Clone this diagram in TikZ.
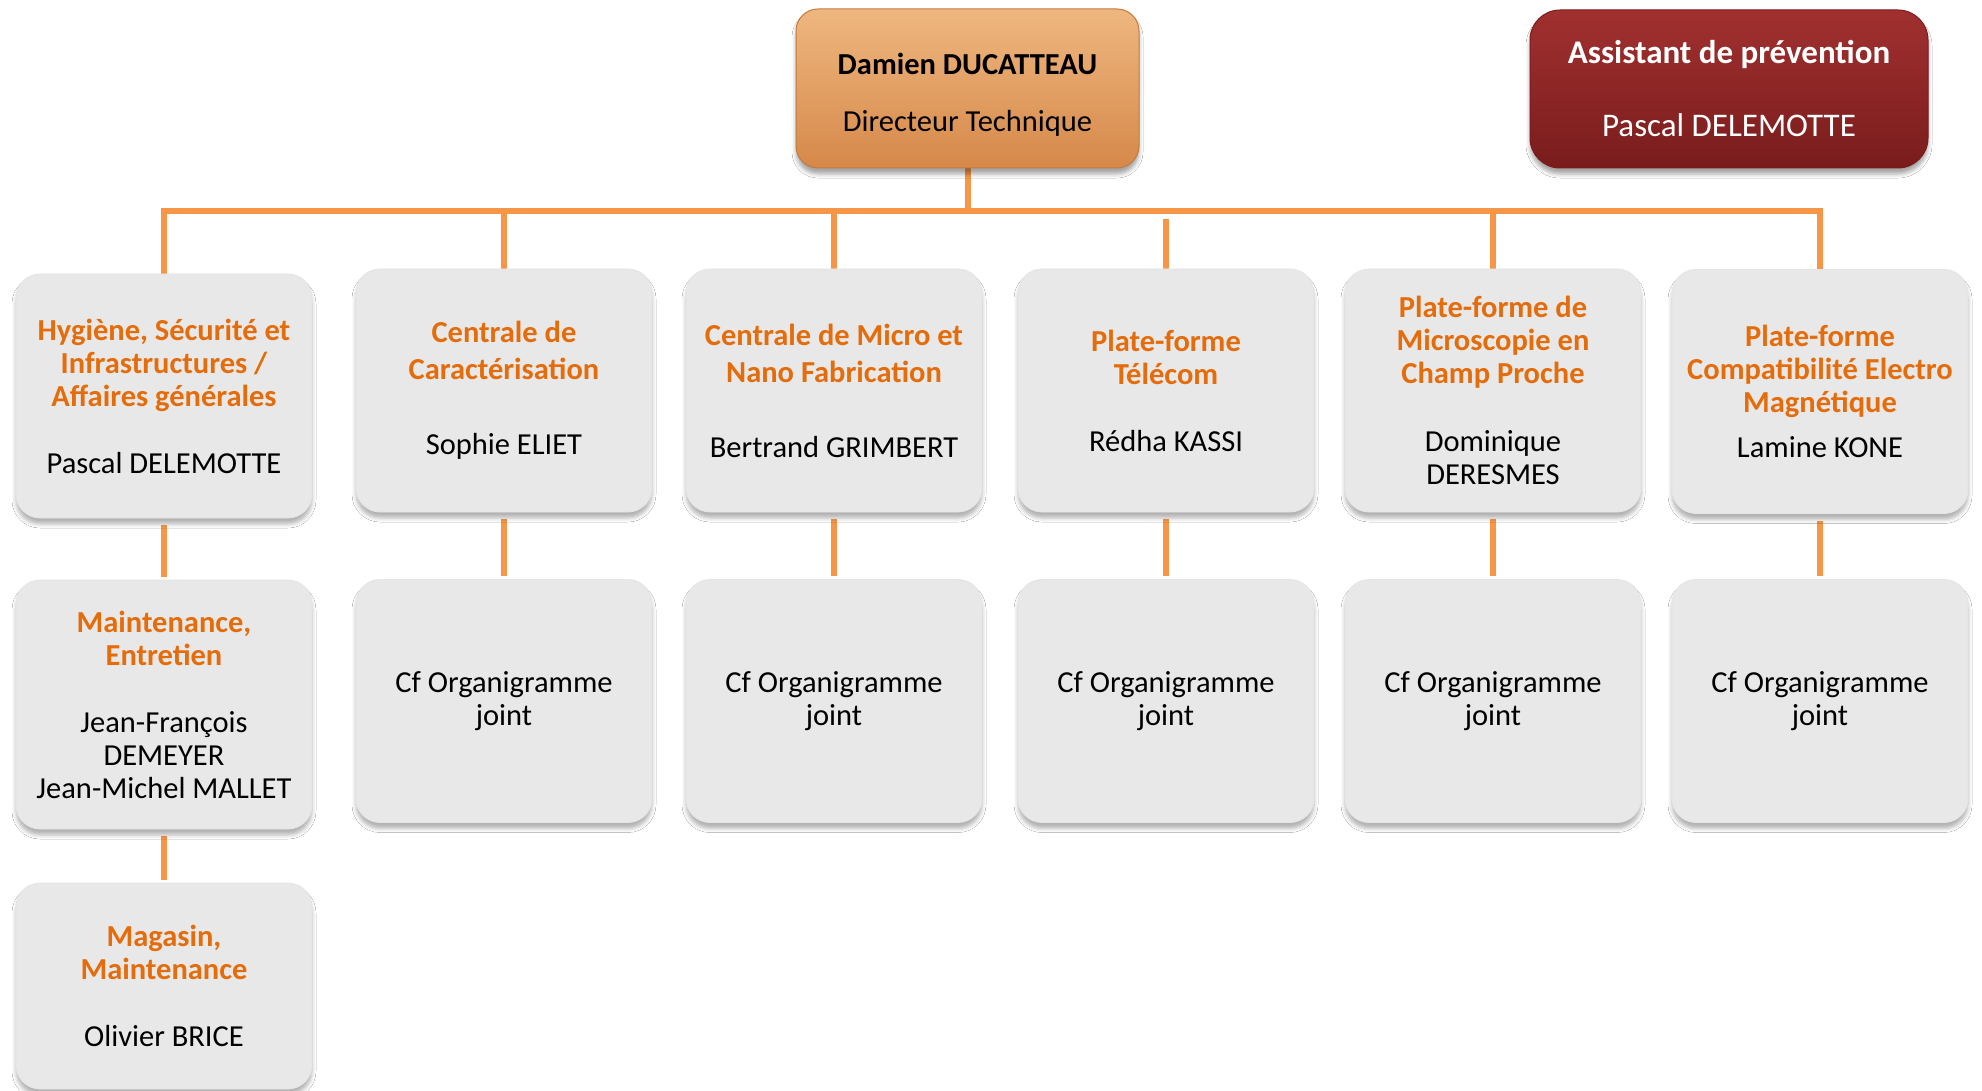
\documentclass[tikz,border=0pt]{standalone}
\usepackage{fontspec}
\setmainfont{Carlito}
\usetikzlibrary{shadows.blur,backgrounds}
\definecolor{connc}{HTML}{F79646}
\definecolor{orangetxt}{HTML}{E46C0A}
\definecolor{boxgray}{HTML}{E8E8E8}
\definecolor{topA}{HTML}{EEB77F}
\definecolor{topB}{HTML}{D6884A}
\definecolor{topE}{HTML}{C47A3E}
\definecolor{redA}{HTML}{A13030}
\definecolor{redB}{HTML}{7A1C1C}
\newcommand\gfont{\fontsize{30.5}{33}\selectfont}
\newcommand\rfont{\fontsize{33}{36}\selectfont}
\newcommand\ttl[1]{\textcolor{orangetxt}{\bfseries #1}}
\begin{document}
\begin{tikzpicture}[x=1pt,y=-1pt,
  conn/.style={draw=connc, line width=6pt},
  vconn/.style={conn, shorten <=7pt, shorten >=3pt},
  gbox/.style={rectangle, rounded corners=24pt, fill=boxgray, draw=white!90!black,
    line width=0.8pt, minimum width=296pt, inner sep=0pt, align=center, font=\gfont,
    blur shadow={shadow xshift=0pt, shadow yshift=-6pt, shadow blur radius=4pt, shadow opacity=30}},
  dirbox/.style={rectangle, rounded corners=22pt, top color=topA, bottom color=topB, draw=topE,
    line width=1pt, minimum width=343pt, minimum height=159pt, inner sep=0pt, align=center, font=\gfont,
    blur shadow={shadow xshift=0pt, shadow yshift=-6pt, shadow blur radius=4pt, shadow opacity=35}},
  redbox/.style={rectangle, rounded corners=30pt, top color=redA, bottom color=redB, draw=redB,
    line width=1pt, minimum width=398pt, minimum height=158pt, inner sep=0pt, align=center, font=\rfont,
    text=white,
    blur shadow={shadow xshift=0pt, shadow yshift=-6pt, shadow blur radius=4pt, shadow opacity=35}},
]
\useasboundingbox (0,0) rectangle (1982,1091);

\node[dirbox] (dir) at (967.5,88.5) {\rule{0pt}{33pt}\textbf{Damien DUCATTEAU}\\[24pt]Directeur Technique};
\node[redbox] (prev) at (1729,89) {\textbf{Assistant de prévention}\\[37pt]Pascal DELEMOTTE};

\node[gbox, minimum height=244pt] (r1a) at (164,396) {\ttl{Hygiène, Sécurité et}\\\ttl{Infrastructures /}\\\ttl{Affaires générales}\\[34pt]Pascal DELEMOTTE};
\node[gbox, minimum height=243pt] (r1b) at (504,390.5) {\ttl{Centrale de}\\[4pt]\ttl{Caractérisation}\\[42pt]Sophie ELIET};
\node[gbox, minimum height=243pt] (r1c) at (834,390.5) {\ttl{Centrale de Micro et}\\[4pt]\ttl{Nano Fabrication}\\[42pt]Bertrand GRIMBERT};
\node[gbox, minimum height=243pt] (r1d) at (1166,390.5) {\ttl{Plate-forme}\\\ttl{Télécom}\\[34pt]Rédha KASSI};
\node[gbox, minimum height=243pt] (r1e) at (1493,390.5) {\ttl{Plate-forme de}\\\ttl{Microscopie en}\\\ttl{Champ Proche}\\[35pt]Dominique\\DERESMES};
\node[gbox, minimum height=244pt] (r1f) at (1820,391.5) {\ttl{Plate-forme}\\\ttl{Compatibilité Electro}\\\ttl{Magnétique}\\[12pt]Lamine KONE};

\node[gbox, minimum height=249pt] (r2a) at (164,704.5) {\ttl{Maintenance,}\\\ttl{Entretien}\\[34pt]Jean-François\\DEMEYER\\Jean-Michel MALLET};
\node[gbox, minimum height=243pt] (r2b) at (504,701) {Cf Organigramme\\joint};
\node[gbox, minimum height=243pt] (r2c) at (834,701) {Cf Organigramme\\joint};
\node[gbox, minimum height=243pt] (r2d) at (1166,701) {Cf Organigramme\\joint};
\node[gbox, minimum height=243pt] (r2e) at (1493,701) {Cf Organigramme\\joint};
\node[gbox, minimum height=243pt] (r2f) at (1820,701) {Cf Organigramme\\joint};

\node[gbox, minimum height=206pt] (r3a) at (164,986) {\ttl{Magasin,}\\\ttl{Maintenance}\\[34pt]Olivier BRICE};

\begin{scope}[on background layer]
\fill[white] (0,0) rectangle (1982,1091);
\coordinate (bus) at (967.5,211);
\coordinate (gap4) at (1166,219);
\draw[conn] (dir.south) -- (dir.south |- bus);
\draw[conn] (r1a.north) -- (r1a.north |- bus) -- (r1f.north |- bus) -- (r1f.north);
\draw[conn] (r1b.north |- bus) -- (r1b.north);
\draw[conn] (r1c.north |- bus) -- (r1c.north);
\draw[conn] (gap4) -- (r1d.north);
\draw[conn] (r1e.north |- bus) -- (r1e.north);
\draw[vconn] (r1a.south) -- (r2a.north);
\draw[vconn] (r1b.south) -- (r2b.north);
\draw[vconn] (r1c.south) -- (r2c.north);
\draw[vconn] (r1d.south) -- (r2d.north);
\draw[vconn] (r1e.south) -- (r2e.north);
\draw[vconn] (r1f.south) -- (r2f.north);
\draw[vconn] (r2a.south) -- (r3a.north);
\end{scope}
\end{tikzpicture}
\end{document}
